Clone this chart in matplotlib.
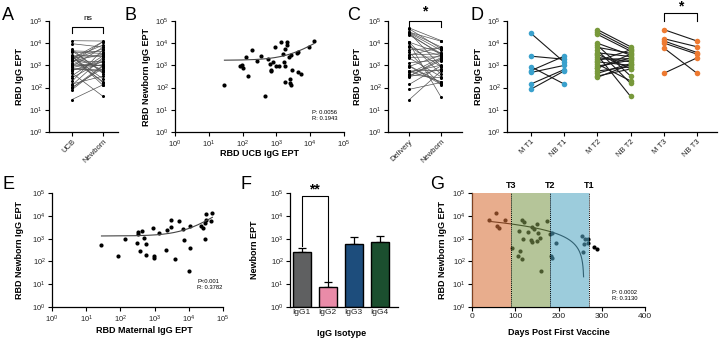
import numpy as np
import matplotlib
matplotlib.use('Agg')
import matplotlib.pyplot as plt
from matplotlib.ticker import FixedLocator, NullLocator, LogFormatterMathtext
from matplotlib.collections import LineCollection

plt.rcParams['font.family'] = ['Liberation Sans', 'DejaVu Sans']
plt.rcParams['mathtext.fontset'] = 'custom'
plt.rcParams['mathtext.rm'] = 'Liberation Sans'
plt.rcParams['mathtext.it'] = 'Liberation Sans:italic'
plt.rcParams['mathtext.bf'] = 'Liberation Sans:bold'

# ---------------- data ----------------
# A / B : umbilical cord blood (UCB) vs newborn
ucb = [29, 455, 81, 102, 96, 129, 145, 190, 275, 345, 575, 640, 710, 700, 810, 910, 1000,
       1180, 1350, 1590, 1700, 1850, 1780, 1820, 2050, 2050, 2350, 2500, 2500, 2650, 2800,
       2700, 4000, 4500, 4500, 5300, 9500, 13000]
newborn_b = [135, 40, 940, 740, 1000, 2300, 330, 5200, 1650, 2700, 1860, 1100, 615, 550, 1400,
             6600, 980, 980, 11800, 3200, 1400, 5600, 900, 185, 11800, 8400, 2500, 245, 165,
             125, 600, 2900, 3450, 4100, 490, 430, 6600, 12500]
fit_b = (1700, 0.61)        # intercept, slope (linear fit)
stats_b = "P: 0.0056\nR: 0.1943"

# C / E : maternal (delivery) vs newborn
maternal = [28, 83, 138, 310, 320, 325, 380, 430, 500, 560, 560, 890, 930, 980, 1320, 2190,
            2290, 2950, 3020, 3980, 5000, 6800, 7240, 10300, 11200, 11200, 23400, 31600,
            31600, 26900, 29500, 30200, 44700, 49000]
newborn_e = [550, 170, 950, 660, 1660, 1950, 275, 2240, 1020, 600, 185, 2900, 140, 165, 1780,
             310, 2450, 6300, 3300, 130, 6200, 2750, 890, 38, 400, 3550, 3470, 6800, 12300,
             3000, 4800, 930, 5750, 13200]
fit_e = (1300, 0.149)
stats_e = "P<0.001\nR: 0.3782"

# D : by trimester
d_labels = ["M T1", "NB T1", "M T2", "NB T2", "M T3", "NB T3"]
t1_m = [28000, 2600, 870, 580, 480, 145, 85]
t1_nb = [1400, 1900, 145, 2600, 1000, 650, 560]
t2_m = [41000, 32000, 25000, 10000, 8100, 6500, 4900, 3700, 2900, 2300, 1900, 1450, 1150, 930,
        740, 560, 440, 330, 290, 1600, 3200, 800]
t2_nb = [6900, 5400, 4400, 2900, 330, 3500, 155, 2500, 40, 1450, 2000, 1000, 200, 1700, 3200,
         870, 1200, 690, 1100, 5000, 710, 2200]
t3_m = [41000, 16000, 12700, 10200, 6100, 440]
t3_nb = [12500, 6900, 3800, 3200, 440, 2200]

# F : IgG isotypes
isotypes = ["IgG1", "IgG2", "IgG3", "IgG4"]
iso_mean = [270, 7.5, 600, 680]
iso_upper = [370, 12, 1150, 1250]
iso_colors = ["#5f6061", "#e98ba8", "#1d4d7c", "#1b4f2f"]

# G : days post first vaccine
days = [40, 55, 57, 62, 77, 92, 115, 121, 109, 111, 106, 116, 119, 129, 138, 143, 136, 139, 150,
        153, 151, 158, 160, 173, 180, 186, 183, 186, 194, 254, 261, 259, 257, 269, 269, 281, 290]
newborn_g = [6800, 12900, 3700, 2800, 6800, 400, 6800, 5200, 2200, 300, 180, 130, 1000, 2000,
             3200, 2600, 900, 700, 4500, 1700, 760, 1100, 38, 5700, 1580, 1700, 180, 135, 620,
             1250, 950, 560, 270, 950, 620, 430, 350]
fit_g = (6742, -26.05)
fit_g_range = (40, 258)
stats_g = "P: 0.0002\nR: 0.3130"
tri_bounds = [0, 90, 180, 270]
tri_labels = ["T3", "T2", "T1"]
tri_colors = ["#d9733b", "#809b50", "#55a7c4"]

# ---------------- layout ----------------
W, H = 720, 340
fig = plt.figure(figsize=(7.2, 3.4), dpi=100)

def add_ax(l, r, t, b):
    return fig.add_axes([l / W, 1 - b / H, (r - l) / W, (b - t) / H])

TICK = 5.5
LAB = 6.5

def style(ax):
    for s in ['top', 'right']:
        ax.spines[s].set_visible(False)
    for s in ['left', 'bottom']:
        ax.spines[s].set_linewidth(0.9)
    ax.tick_params(direction='out', length=3, width=0.8, labelsize=TICK, pad=1.5,
                   labelcolor='#222222')

def logy(ax):
    ax.set_yscale('log')
    ax.set_ylim(1, 1e5)
    ax.yaxis.set_major_locator(FixedLocator([1, 10, 100, 1e3, 1e4, 1e5]))
    ax.yaxis.set_major_formatter(LogFormatterMathtext())
    ax.yaxis.set_minor_locator(NullLocator())

def logx(ax):
    ax.set_xscale('log')
    ax.set_xlim(1, 1e5)
    ax.xaxis.set_major_locator(FixedLocator([1, 10, 100, 1e3, 1e4, 1e5]))
    ax.xaxis.set_major_formatter(LogFormatterMathtext())
    ax.xaxis.set_minor_locator(NullLocator())

def ylab(ax, text, xc):
    ax.set_ylabel(text, fontsize=LAB, fontweight='bold')
    ax.yaxis.set_label_coords(xc, 0.5)

def xlab(ax, text, yc, xc=0.5):
    ax.set_xlabel(text, fontsize=LAB, fontweight='bold')
    ax.xaxis.set_label_coords(xc, yc)

def bracket(ax, x0, x1, ytop, y0, y1, text, ytext, fs, fw):
    ax.plot([x0, x0, x1, x1], [y0, ytop, ytop, y1], color='black', lw=0.8, clip_on=False)
    ax.text((x0 + x1) / 2, ytext, text, ha='center', va='center', fontsize=fs, fontweight=fw)

def paired(ax, xa, xb, a, b, mcolor, lcolor, ms, lw):
    segs = [[(xa, va), (xb, vb)] for va, vb in zip(a, b)]
    lc = LineCollection(segs, colors=lcolor, linewidths=lw, zorder=2.5, clip_on=False)
    ax.add_collection(lc)
    ax.plot([xa] * len(a), a, 'o', color=mcolor, ms=ms, mew=0, zorder=3, clip_on=False)
    ax.plot([xb] * len(b), b, 'o', color=mcolor, ms=ms, mew=0, zorder=3, clip_on=False)

def cat_labels(ax, labels):
    ax.set_xticks(range(len(labels)))
    ax.set_xticklabels(labels, rotation=45, ha='right', rotation_mode='anchor', fontsize=TICK)

def letter(x, y, s):
    fig.text(x / W, 1 - y / H, s, ha='left', va='top', fontsize=13, color='black')

# ---- A ----
axA = add_ax(49, 118, 21, 132)
style(axA); logy(axA)
paired(axA, 0, 1, ucb, newborn_b, 'black', '#555555', 2.2, 0.5)
axA.set_xlim(-0.74, 1.48)
cat_labels(axA, ["UCB", "Newborn"])
ylab(axA, "RBD IgG EPT", -0.36)
bracket(axA, 0, 1, 10**4.74, 10**4.45, 10**4.45, "ns", 10**5.13, 6, 'normal')

# ---- B ----
axB = add_ax(175, 344, 21, 132)
style(axB); logy(axB); logx(axB)
axB.plot(ucb, newborn_b, 'o', color='black', ms=3, mew=0)
xs = np.linspace(min(ucb), max(ucb), 400)
axB.plot(xs, fit_b[0] + fit_b[1] * xs, color='#444444', lw=0.8)
ylab(axB, "RBD Newborn IgG EPT", -0.144)
xlab(axB, "RBD UCB IgG EPT", -0.149)
fig.text(312 / W, 1 - 110 / H, stats_b, fontsize=4.2, va='top', ha='left', linespacing=1.3)

# ---- C ----
axC = add_ax(388, 462, 21, 132)
style(axC); logy(axC)
paired(axC, 0, 1, maternal, newborn_e, 'black', '#555555', 2.2, 0.5)
axC.set_xlim(-0.66, 1.66)
cat_labels(axC, ["Delivery", "Newborn"])
ylab(axC, "RBD IgG EPT", -0.35)
bracket(axC, 0, 1, 10**5.01, 10**4.72, 10**4.72, "*", 10**5.42, 10, 'bold')

# ---- D ----
axD = add_ax(507, 717, 21, 132)
style(axD); logy(axD)
paired(axD, 0, 1, t1_m, t1_nb, '#3aa1cd', '#1a1a1a', 4, 0.8)
paired(axD, 2, 3, t2_m, t2_nb, '#78993b', '#1a1a1a', 4, 0.8)
paired(axD, 4, 5, t3_m, t3_nb, '#ee7a31', '#1a1a1a', 4, 0.8)
axD.set_xlim(-0.72, 5.6)
cat_labels(axD, d_labels)
ylab(axD, "RBD IgG EPT", -0.114)
bracket(axD, 4, 5, 10**5.37, 10**5.0, 10**5.0, "*", 10**5.66, 10, 'bold')

# ---- E ----
axE = add_ax(52, 223, 193, 307)
style(axE); logy(axE); logx(axE)
axE.plot(maternal, newborn_e, 'o', color='black', ms=3, mew=0)
xs = np.linspace(min(maternal), max(maternal), 400)
axE.plot(xs, fit_e[0] + fit_e[1] * xs, color='#444444', lw=0.8)
ylab(axE, "RBD Newborn IgG EPT", -0.164)
xlab(axE, "RBD Maternal IgG EPT", -0.171, 0.54)
fig.text(197 / W, 1 - 279 / H, stats_e, fontsize=4.2, va='top', ha='left', linespacing=1.3)

# ---- F ----
axF = add_ax(290, 398, 193, 307)
style(axF); logy(axF)
xpos = np.arange(len(isotypes))
axF.bar(xpos, np.array(iso_mean) - 1, bottom=1, width=0.7, color=iso_colors,
        edgecolor='black', lw=1.0, zorder=2)
err_up = np.array(iso_upper) - np.array(iso_mean)
axF.errorbar(xpos, iso_mean, yerr=[np.zeros(len(xpos)), err_up], fmt='none',
             ecolor='black', elinewidth=0.9, capsize=3, capthick=0.9, zorder=1)
axF.set_xlim(-0.45, 3.7)
axF.set_xticks(xpos)
axF.set_xticklabels(isotypes, fontsize=6)
axF.tick_params(axis='x', length=0)
ylab(axF, "Newborn EPT", -0.287)
xlab(axF, "IgG Isotype", -0.189, 0.48)
bracket(axF, 0, 1, 10**4.86, 10**2.67, 10**1.15, "**", 10**5.17, 10, 'bold')

# ---- G ----
axG = add_ax(472, 645, 193, 307)
style(axG); logy(axG)
axG.set_xlim(0, 400)
axG.set_xticks([0, 100, 200, 300, 400])
axG.tick_params(axis='x', labelsize=6)
axG.plot(days, newborn_g, 'o', color='black', ms=3, mew=0, zorder=2)
xs = np.linspace(fit_g_range[0], fit_g_range[1], 600)
axG.plot(xs, fit_g[0] + fit_g[1] * xs, color='black', lw=0.8, zorder=2)
for i in range(3):
    axG.axvspan(tri_bounds[i], tri_bounds[i + 1], color=tri_colors[i], alpha=0.58, lw=0, zorder=3)
for i in range(1, 4):
    axG.axvline(tri_bounds[i], color='black', lw=0.7, ls=(0, (1, 1)), zorder=4)
    axG.text(tri_bounds[i], 10**5.12, tri_labels[i - 1], ha='center', va='bottom',
             fontsize=6.5, fontweight='bold')
ylab(axG, "RBD Newborn IgG EPT", -0.145)
xlab(axG, "Days Post First Vaccine", -0.18)
fig.text(612 / W, 1 - 290 / H, stats_g, fontsize=4.2, va='top', ha='left', linespacing=1.3)

# panel letters
letter(2, 7, "A"); letter(124, 7, "B"); letter(347, 7, "C"); letter(471, 7, "D")
letter(3, 176, "E"); letter(240, 176, "F"); letter(430, 176, "G")

fig.savefig("out.png", dpi=100)
